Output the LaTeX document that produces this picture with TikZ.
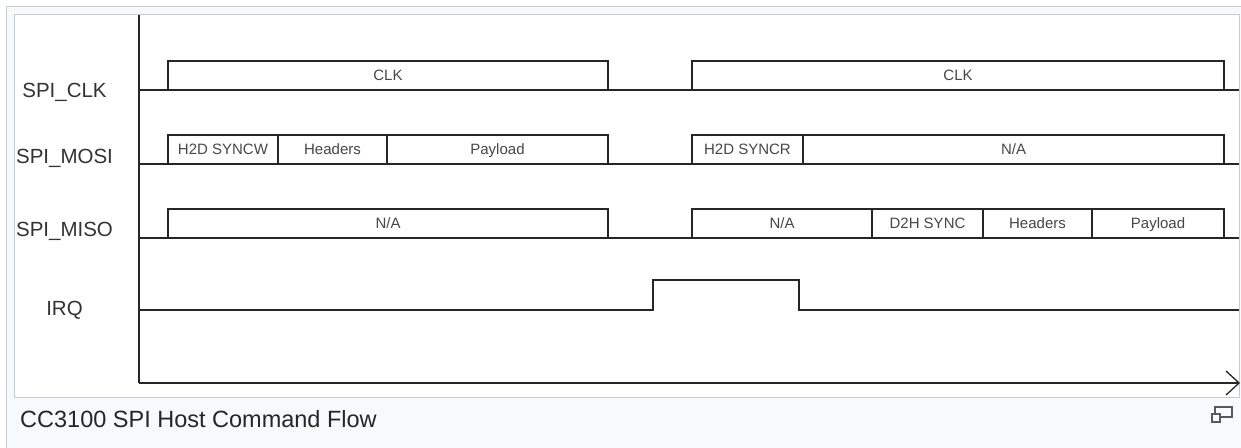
\documentclass[tikz,border=0pt]{standalone}
\usepackage{fontspec}
\setmainfont{Liberation Sans}
\usetikzlibrary{arrows.meta,positioning}
\definecolor{framegray}{HTML}{C8CCD1}
\definecolor{pagebg}{HTML}{F8F9FA}
\definecolor{wire}{HTML}{262626}
\newcommand\labfont{\fontsize{20.5}{24}\selectfont}
\newcommand\segfont{\fontsize{15}{18}\selectfont}
\newcommand\capfont{\fontsize{23.5}{28}\selectfont}
\tikzset{
  frame/.style = {draw=framegray, line width=1pt},
  sig/.style   = {draw=wire, line width=1.7pt},
  seg/.style   = {draw=wire, line width=1.7pt, minimum height=29pt,
                  inner sep=0pt, outer sep=0pt, font=\segfont,
                  text=black!72, text height=10.7pt, text depth=0pt},
  lab/.style   = {anchor=base, font=\labfont, text=black!80},
  axis/.style  = {draw=wire, line width=1.8pt},
  tarr/.style  = {-{Straight Barb[length=13pt, width=24pt, line width=1.3pt]}, axis},
  icon/.style  = {draw=black!65, line width=1.2pt},
}

\begin{document}
\begin{tikzpicture}[x=1pt, y=-1pt]
  \useasboundingbox (0,0) rectangle (1241,447);
  \fill[white] (0,0) rectangle (1241,447);
  \draw[frame, fill=pagebg] (6.5,6.5) rectangle (1262,470);
  \draw[frame, fill=white] (14,14) rectangle (1239,397);

  % axes
  \coordinate (top) at (139,15);
  \coordinate (org) at (139,383);
  \coordinate (tend) at (1240,383);
  \draw[axis] (top) -- (org);
  \draw[tarr] (org) -- (tend);

  % signal names
  \node[lab] (lclk)  at (64.5,97)  {SPI\_CLK};
  \node[lab] (lmosi) at (64.5,163) {SPI\_MOSI};
  \node[lab] (lmiso) at (64.5,236) {SPI\_MISO};
  \node[lab] (lirq)  at (64.5,315) {IRQ};

  % idle levels
  \draw[sig] (139,90)  -- (1239,90);
  \draw[sig] (139,164) -- (1239,164);
  \draw[sig] (139,238) -- (1239,238);

  % SPI_CLK
  \node[seg, anchor=south west, minimum width=440pt] (clka) at (168,90) {CLK};
  \node[seg, anchor=south west, minimum width=532pt] (clkb) at (692,90) {CLK};

  % SPI_MOSI
  \node[seg, anchor=south west, minimum width=110pt] (syncw) at (168,164) {H2D SYNCW};
  \node[seg, minimum width=109pt, right=0pt of syncw] (hdra) {Headers};
  \node[seg, minimum width=221pt, right=0pt of hdra] (pla) {Payload};
  \node[seg, anchor=south west, minimum width=111pt] (syncr) at (692,164) {H2D SYNCR};
  \node[seg, minimum width=421pt, right=0pt of syncr] (nam) {N/A};

  % SPI_MISO
  \node[seg, anchor=south west, minimum width=440pt] (nas) at (168,238) {N/A};
  \node[seg, anchor=south west, minimum width=180pt] (nat) at (692,238) {N/A};
  \node[seg, minimum width=111pt, right=0pt of nat] (dsync) {D2H SYNC};
  \node[seg, minimum width=109pt, right=0pt of dsync] (hdrb) {Headers};
  \node[seg, minimum width=132pt, right=0pt of hdrb] (plb) {Payload};

  % IRQ
  \draw[sig] (139,310) -- (653,310) -- (653,280) -- (799,280) -- (799,310) -- (1239,310);

  % caption
  \node[anchor=base west, font=\capfont, text=black!85, inner sep=0pt] (cap) at (20,427)
    {CC3100 SPI Host Command Flow};
  \draw[icon] (1215,407) rectangle (1232,417);
  \draw[icon, fill=pagebg] (1212,414) rectangle (1220,422);
\end{tikzpicture}
\end{document}
